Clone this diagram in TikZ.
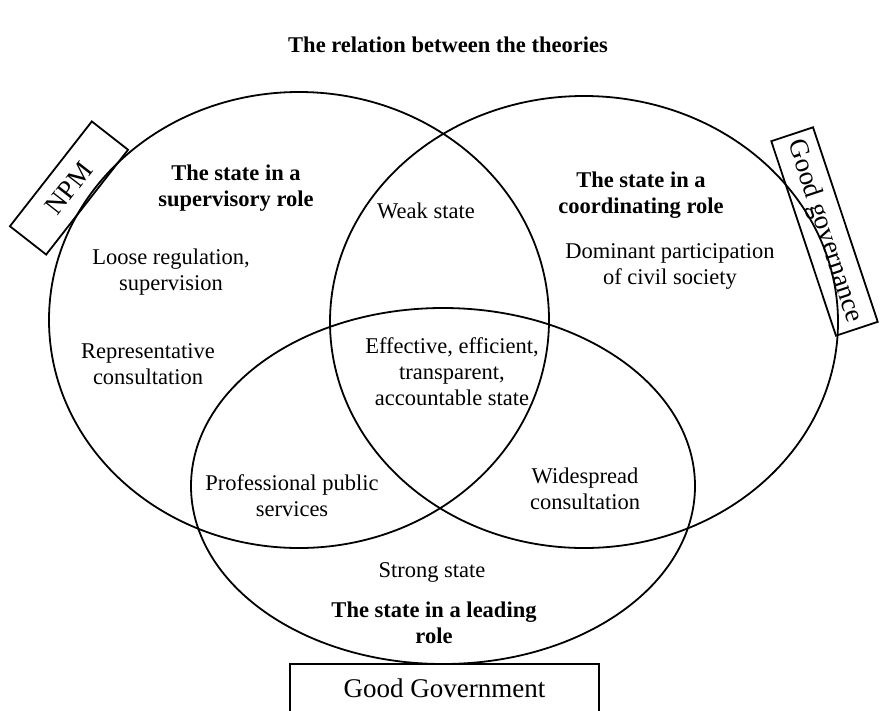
\documentclass[tikz,border=0pt]{standalone}
\usepackage{fontspec}
\setmainfont{Liberation Serif}
\usetikzlibrary{shapes.geometric}

% multi-line centred text whose reference point is the first baseline
\newcommand{\txtblock}[1]{\begin{tabular}[t]{@{}c@{}}#1\end{tabular}}

\tikzset{
  ring/.style={draw, ellipse, line width=1.8pt, inner sep=0pt},
  body/.style={anchor=base, inner sep=0pt, font=\fontsize{22.5}{26}\selectfont},
  heading/.style={body, font=\fontsize{22.5}{26}\selectfont\bfseries},
  tag/.style={draw, line width=1.8pt, inner sep=0pt, font=\fontsize{27}{31}\selectfont}
}

\begin{document}
\begin{tikzpicture}[x=1pt, y=-1pt]
  \useasboundingbox (0,0) rectangle (896,710);

  % title
  \node[heading] (title) at (448,52) {The relation between the theories};

  % the three theory regions
  \node[ring, minimum width=500pt, minimum height=456pt] (npmring) at (299,320) {};
  \node[ring, minimum width=508pt, minimum height=452pt] (ggring) at (584,322) {};
  \node[ring, minimum width=504pt, minimum height=356pt] (govring) at (443,486) {};

  % theory labels
  \node[tag, rotate=52, minimum width=133pt, minimum height=46pt] (npm) at (69,188) {NPM};
  \node[tag, rotate=-71.6, minimum width=205pt, minimum height=44pt] (gg) at (824.5,231.5) {Good governance};
  \node[tag, minimum width=309pt, minimum height=48pt] (gov) at (444.5,688) {Good Government};

  % region texts
  \node[heading] (sup) at (236,180) {\txtblock{The state in a\\supervisory role}};
  \node[body] (weak) at (426,218) {Weak state};
  \node[heading] (coord) at (641,187) {\txtblock{The state in a\\coordinating role}};
  \node[body] (dom) at (670,258) {\txtblock{Dominant participation\\of civil society}};
  \node[body] (loose) at (171,264) {\txtblock{Loose regulation,\\supervision}};
  \node[body] (repr) at (148,358) {\txtblock{Representative\\consultation}};
  \node[body] (eff) at (452,353) {\txtblock{Effective, efficient,\\transparent,\\accountable state}};
  \node[body] (prof) at (292,490) {\txtblock{Professional public\\services}};
  \node[body] (wide) at (585,483) {\txtblock{Widespread\\consultation}};
  \node[body] (strong) at (432,577) {Strong state};
  \node[heading] (lead) at (434,617) {\txtblock{The state in a leading\\role}};
\end{tikzpicture}
\end{document}
